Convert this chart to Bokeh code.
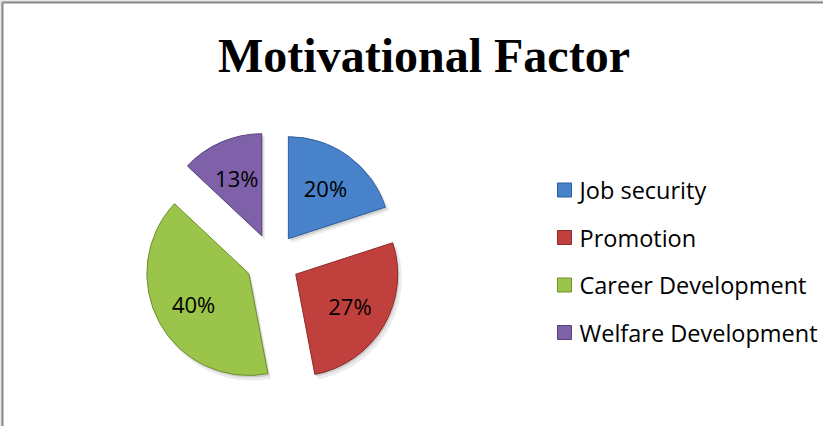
import numpy as np
from bokeh.plotting import figure
from bokeh.models import Range1d, ColumnDataSource
from bokeh.core.properties import value
from bokeh.embed import file_html
from bokeh.resources import INLINE

# ---- data ----
title_text = "Motivational Factor"
categories = ["Job security", "Promotion", "Career Development", "Welfare Development"]
shares = [20, 27, 40, 13]
share_labels = ["20%", "27%", "40%", "13%"]
colors = ["#4782cb", "#c0403e", "#9bc44a", "#7e61a8"]
edge_colors = ["#2e5d9c", "#8c2b29", "#6e8f2d", "#574279"]

# ---- layout constants (screen pixels, y measured from top of page) ----
W, H = 823, 426
def sy(y):
    return 442 - y

cx, cy = 280, sy(268)
R = 102
EXPLODE = 27
LABEL_R = 63

p = figure(width=W, height=H, x_range=Range1d(8, 831), y_range=Range1d(8, 434),
           output_backend="svg", toolbar_location=None, min_border=0)
p.axis.visible = False
p.grid.visible = False
p.outline_line_color = None
p.background_fill_color = "white"
p.border_fill_color = "white"

# outer grey strip and chart border
p.quad(left=8, right=831, bottom=sy(9.5), top=434, color="#dadada")
p.quad(left=8, right=9.5, bottom=8, top=434, color="#dadada")
p.segment(x0=[10, 10], y0=[sy(10), sy(10)], x1=[10, 831], y1=[8, sy(10)],
          line_color="#8a8a8a", line_width=2)

# ---- pie geometry from data ----
vals = np.array(shares, dtype=float)
frac = np.concatenate([[0], np.cumsum(vals)]) / vals.sum() * 2 * np.pi
a1, a2 = frac[:-1], frac[1:]           # clockwise from 12 o'clock
start = np.pi / 2 - a2
end = np.pi / 2 - a1
mid = np.pi / 2 - (a1 + a2) / 2
wx = cx + EXPLODE * np.cos(mid)
wy = cy + EXPLODE * np.sin(mid)
lx = cx + (EXPLODE + LABEL_R) * np.cos(mid)
ly = cy + (EXPLODE + LABEL_R) * np.sin(mid)

src = ColumnDataSource(dict(x=wx, y=wy, start=start, end=end, color=colors,
                            edge=edge_colors, lx=lx, ly=ly, lab=share_labels,
                            sx1=wx + 3, sy1=wy - 4, sx2=wx + 1.5, sy2=wy - 2))

# soft shadows
p.wedge(x="sx1", y="sy1", radius=R + 1, start_angle="start", end_angle="end",
        source=src, fill_color="black", fill_alpha=0.08, line_color=None)
p.wedge(x="sx2", y="sy2", radius=R, start_angle="start", end_angle="end",
        source=src, fill_color="black", fill_alpha=0.12, line_color=None)
# slices
p.wedge(x="x", y="y", radius=R, start_angle="start", end_angle="end",
        source=src, fill_color="color", line_color="edge", line_width=1)

p.text(x="lx", y="ly", text="lab", source=src, text_align="center",
       text_baseline="middle", text_font=value("Open Sans"),
       text_font_size="22px", text_color="black")

# ---- title ----
p.text(x=[431.5], y=[sy(62.5)], text=[title_text], text_align="center",
       text_baseline="middle", text_font=value("Liberation Serif"),
       text_font_style="bold", text_font_size="48px", text_color="black")

# ---- legend ----
n = len(categories)
rows = np.arange(n)
leg = ColumnDataSource(dict(
    mx=np.full(n, 572.0), my=sy(197.5 + rows * 47.5),
    tx=np.full(n, 587.0), ty=sy(197.5 + rows * 47.5),
    name=categories, color=colors, edge=edge_colors))
p.rect(x="mx", y="my", width=14, height=14, source=leg,
       fill_color="color", line_color="edge", line_width=1)
p.text(x="tx", y="ty", text="name", source=leg, text_align="left",
       text_baseline="middle", text_font=value("Open Sans"),
       text_font_size="23.5px", text_color="black")

open("out.html", "w").write(file_html(p, INLINE))
